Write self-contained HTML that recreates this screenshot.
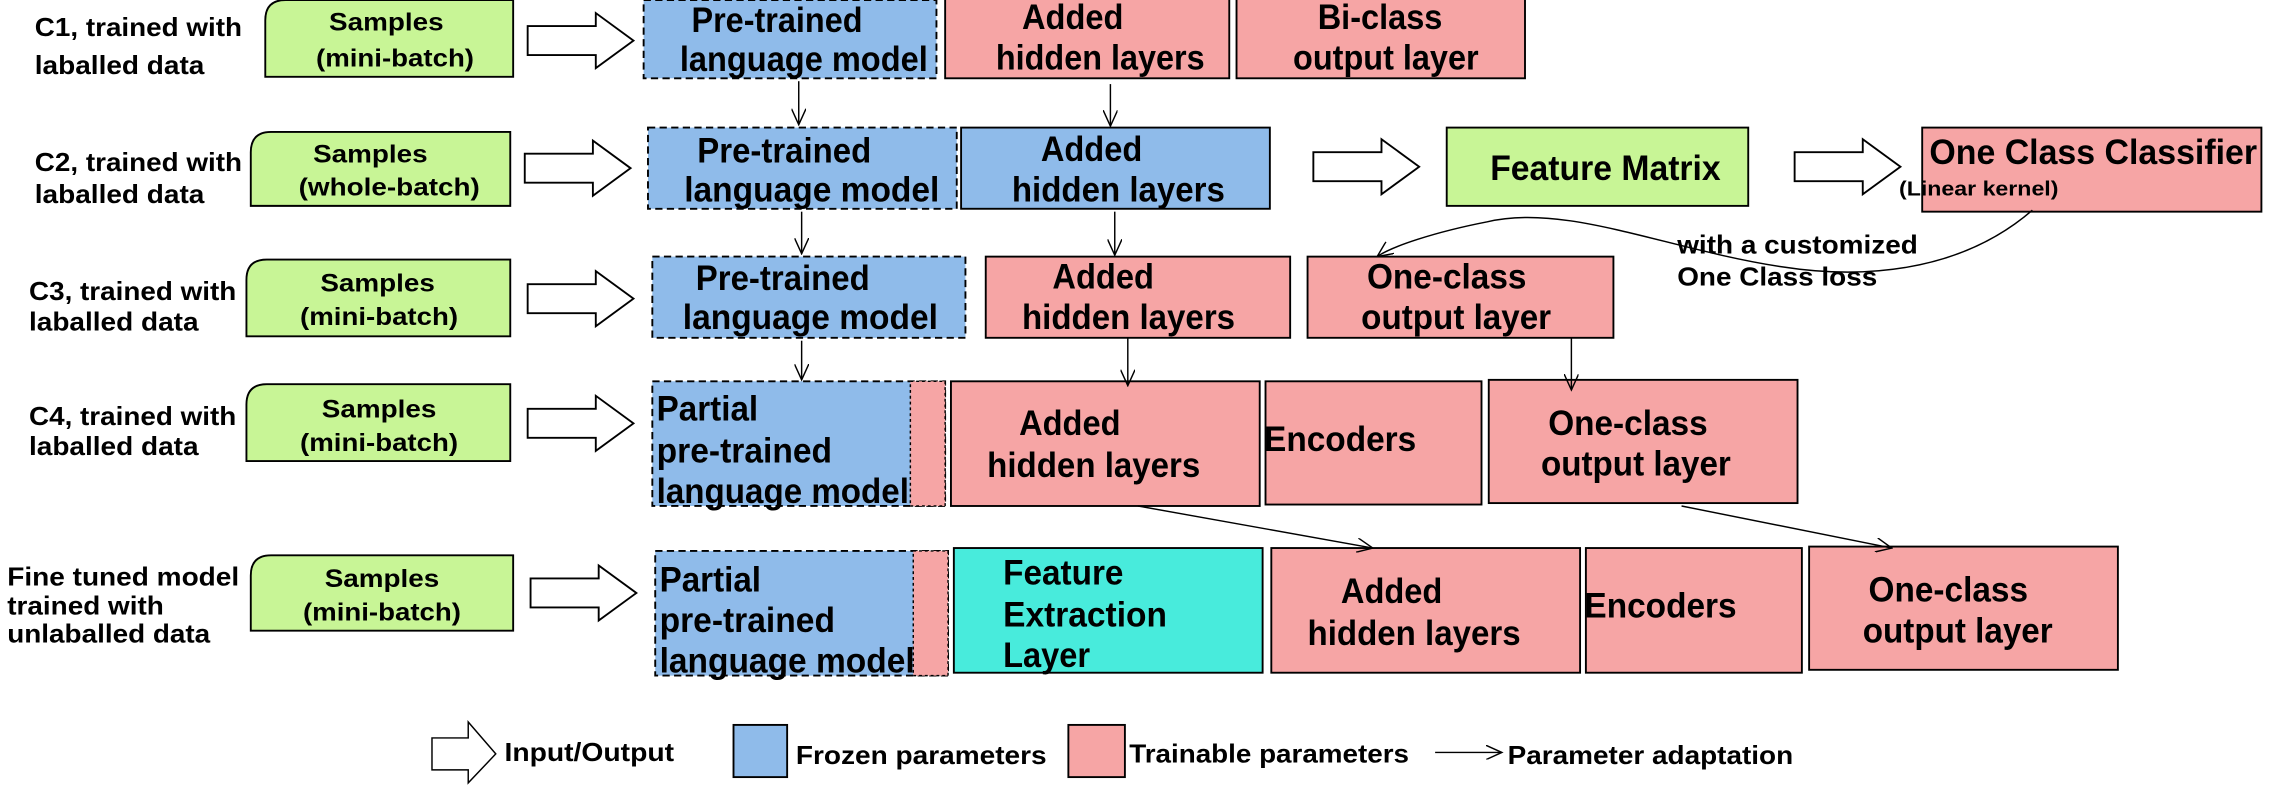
<!DOCTYPE html>
<html><head><meta charset="utf-8"><style>
html,body{margin:0;padding:0;background:#fff;}
svg{display:block;}
text{font-family:"Liberation Sans",sans-serif;font-weight:bold;fill:#000;}
.n{font-size:24px;}
.s{font-size:17px;}
.l{font-size:18px;}
</style></head><body>
<svg width="2273" height="809" viewBox="0 0 1568 558" preserveAspectRatio="none" xmlns="http://www.w3.org/2000/svg">
<defs>
<marker id="ah" markerWidth="12" markerHeight="10" refX="11" refY="5" orient="auto" markerUnits="userSpaceOnUse">
<path d="M0,0 L11,5 L0,10" fill="none" stroke="#000" stroke-width="1"/>
</marker>
<g id="bigarrow"><path d="M0,9 H47 V0 L73,19 L47,38 V29 H0 Z" fill="#fff" stroke="#000" stroke-width="1.3"/></g>
</defs>
<g stroke="#000" stroke-width="1.3">
<path d="M183,53 V14 Q183,0 197,0 H354 V53 Z" fill="#c8f596"/>
<path d="M173,142 V105 Q173,91 187,91 H352 V142 Z" fill="#c8f596"/>
<path d="M170,232 V193 Q170,179 184,179 H352 V232 Z" fill="#c8f596"/>
<path d="M170,318 V279 Q170,265 184,265 H352 V318 Z" fill="#c8f596"/>
<path d="M173,435 V397 Q173,383 187,383 H354 V435 Z" fill="#c8f596"/>
</g>
<g>
<use href="#bigarrow" transform="translate(364,9)"/>
<use href="#bigarrow" transform="translate(362,97)"/>
<use href="#bigarrow" transform="translate(364,187)"/>
<use href="#bigarrow" transform="translate(364,273)"/>
<use href="#bigarrow" transform="translate(366,390)"/>
<use href="#bigarrow" transform="translate(906,96)"/>
<use href="#bigarrow" transform="translate(1238,96)"/>
</g>
<g stroke="#000" stroke-width="1.3">
<rect x="444" y="0" width="202" height="54" fill="#8fbbea" stroke-dasharray="5,3"/>
<rect x="652" y="-2" width="196" height="56" fill="#f6a5a5"/>
<rect x="853" y="-2" width="199" height="56" fill="#f6a5a5"/>
<rect x="447" y="88" width="213" height="56" fill="#8fbbea" stroke-dasharray="5,3"/>
<rect x="663" y="88" width="213" height="56" fill="#8fbbea"/>
<rect x="998" y="88" width="208" height="54" fill="#c8f596"/>
<rect x="1326" y="88" width="234" height="58" fill="#f6a5a5"/>
<rect x="450" y="177" width="216" height="56" fill="#8fbbea" stroke-dasharray="5,3"/>
<rect x="680" y="177" width="210" height="56" fill="#f6a5a5"/>
<rect x="902" y="177" width="211" height="56" fill="#f6a5a5"/>
<rect x="450" y="263" width="202" height="86" fill="#8fbbea" stroke-dasharray="5,3"/>
<rect x="628" y="263" width="24" height="86" fill="#f6a5a5" stroke-dasharray="2,2" stroke-width="1"/>
<rect x="656" y="263" width="213" height="86" fill="#f6a5a5"/>
<rect x="873" y="263" width="149" height="85" fill="#f6a5a5"/>
<rect x="1027" y="262" width="213" height="85" fill="#f6a5a5"/>
<rect x="452" y="380" width="202" height="86" fill="#8fbbea" stroke-dasharray="5,3"/>
<rect x="630" y="380" width="24" height="86" fill="#f6a5a5" stroke-dasharray="2,2" stroke-width="1"/>
<rect x="658" y="378" width="213" height="86" fill="#48ebdc"/>
<rect x="877" y="378" width="213" height="86" fill="#f6a5a5"/>
<rect x="1094" y="378" width="149" height="86" fill="#f6a5a5"/>
<rect x="1248" y="377" width="213" height="85" fill="#f6a5a5"/>
<rect x="506" y="500" width="37" height="36" fill="#8fbbea"/>
<rect x="737" y="500" width="39" height="36" fill="#f6a5a5"/>
</g>
<path d="M298,509 H323 V498 L342,520 L323,540 V531 H298 Z" fill="#fff" stroke="#000" stroke-width="1"/>
<g stroke="#000" stroke-width="1" fill="none" marker-end="url(#ah)">
<line x1="551" y1="56" x2="551" y2="86"/>
<line x1="766" y1="58" x2="766" y2="87"/>
<line x1="553" y1="146" x2="553" y2="175"/>
<line x1="769" y1="146" x2="769" y2="176"/>
<line x1="553" y1="235" x2="553" y2="262"/>
<line x1="778" y1="233" x2="778" y2="266"/>
<line x1="1084" y1="233" x2="1084" y2="269"/>
<line x1="785" y1="349" x2="947" y2="378"/>
<line x1="1160" y1="349" x2="1305" y2="378"/>
<path d="M1402,145 C1350,190 1280,192 1229,184 C1150,172 1080,140 1026,153 C990,160 960,170 950,177"/>
<line x1="990" y1="519" x2="1036" y2="519"/>
</g>
<g class="l" lengthAdjust="spacingAndGlyphs">
<text x="24" y="25" textLength="143" lengthAdjust="spacingAndGlyphs">C1, trained with</text><text x="24" y="51" textLength="117" lengthAdjust="spacingAndGlyphs">laballed data</text>
<text x="24" y="118" textLength="143" lengthAdjust="spacingAndGlyphs">C2, trained with</text><text x="24" y="140" textLength="117" lengthAdjust="spacingAndGlyphs">laballed data</text>
<text x="20" y="207" textLength="143" lengthAdjust="spacingAndGlyphs">C3, trained with</text><text x="20" y="228" textLength="117" lengthAdjust="spacingAndGlyphs">laballed data</text>
<text x="20" y="293" textLength="143" lengthAdjust="spacingAndGlyphs">C4, trained with</text><text x="20" y="314" textLength="117" lengthAdjust="spacingAndGlyphs">laballed data</text>
<text x="5" y="404" textLength="160" lengthAdjust="spacingAndGlyphs">Fine tuned model</text><text x="5" y="424" textLength="108" lengthAdjust="spacingAndGlyphs">trained with</text><text x="5" y="443" textLength="140" lengthAdjust="spacingAndGlyphs">unlaballed data</text>
</g>
<g class="s">
<text x="227" y="21" textLength="79" lengthAdjust="spacingAndGlyphs">Samples</text><text x="218" y="46" textLength="109" lengthAdjust="spacingAndGlyphs">(mini-batch)</text>
<text x="216" y="112" textLength="79" lengthAdjust="spacingAndGlyphs">Samples</text><text x="206" y="135" textLength="125" lengthAdjust="spacingAndGlyphs">(whole-batch)</text>
<text x="221" y="201" textLength="79" lengthAdjust="spacingAndGlyphs">Samples</text><text x="207" y="224" textLength="109" lengthAdjust="spacingAndGlyphs">(mini-batch)</text>
<text x="222" y="288" textLength="79" lengthAdjust="spacingAndGlyphs">Samples</text><text x="207" y="311" textLength="109" lengthAdjust="spacingAndGlyphs">(mini-batch)</text>
<text x="224" y="405" textLength="79" lengthAdjust="spacingAndGlyphs">Samples</text><text x="209" y="428" textLength="109" lengthAdjust="spacingAndGlyphs">(mini-batch)</text>
</g>
<g class="n">
<text x="477" y="22" textLength="118" lengthAdjust="spacingAndGlyphs">Pre-trained</text><text x="469" y="49" textLength="171" lengthAdjust="spacingAndGlyphs">language model</text>
<text x="705" y="20" textLength="70" lengthAdjust="spacingAndGlyphs">Added</text><text x="687" y="48" textLength="144" lengthAdjust="spacingAndGlyphs">hidden layers</text>
<text x="909" y="20" textLength="86" lengthAdjust="spacingAndGlyphs">Bi-class</text><text x="892" y="48" textLength="128" lengthAdjust="spacingAndGlyphs">output layer</text>
<text x="481" y="112" textLength="120" lengthAdjust="spacingAndGlyphs">Pre-trained</text><text x="472" y="139" textLength="176" lengthAdjust="spacingAndGlyphs">language model</text>
<text x="718" y="111" textLength="70" lengthAdjust="spacingAndGlyphs">Added</text><text x="698" y="139" textLength="147" lengthAdjust="spacingAndGlyphs">hidden layers</text>
<text x="1028" y="124" textLength="159" lengthAdjust="spacingAndGlyphs">Feature Matrix</text>
<text x="1331" y="113" textLength="226" lengthAdjust="spacingAndGlyphs">One Class Classifier</text>
<text x="480" y="200" textLength="120" lengthAdjust="spacingAndGlyphs">Pre-trained</text><text x="471" y="227" textLength="176" lengthAdjust="spacingAndGlyphs">language model</text>
<text x="726" y="199" textLength="70" lengthAdjust="spacingAndGlyphs">Added</text><text x="705" y="227" textLength="147" lengthAdjust="spacingAndGlyphs">hidden layers</text>
<text x="943" y="199" textLength="110" lengthAdjust="spacingAndGlyphs">One-class</text><text x="939" y="227" textLength="131" lengthAdjust="spacingAndGlyphs">output layer</text>
<text x="703" y="300" textLength="70" lengthAdjust="spacingAndGlyphs">Added</text><text x="681" y="329" textLength="147" lengthAdjust="spacingAndGlyphs">hidden layers</text>
<text x="872" y="311" textLength="105" lengthAdjust="spacingAndGlyphs">Encoders</text>
<text x="1068" y="300" textLength="110" lengthAdjust="spacingAndGlyphs">One-class</text><text x="1063" y="328" textLength="131" lengthAdjust="spacingAndGlyphs">output layer</text>
<text x="925" y="416" textLength="70" lengthAdjust="spacingAndGlyphs">Added</text><text x="902" y="445" textLength="147" lengthAdjust="spacingAndGlyphs">hidden layers</text>
<text x="1093" y="426" textLength="105" lengthAdjust="spacingAndGlyphs">Encoders</text>
<text x="1289" y="415" textLength="110" lengthAdjust="spacingAndGlyphs">One-class</text><text x="1285" y="443" textLength="131" lengthAdjust="spacingAndGlyphs">output layer</text>
<text x="453" y="290" textLength="70" lengthAdjust="spacingAndGlyphs">Partial</text><text x="453" y="319" textLength="121" lengthAdjust="spacingAndGlyphs">pre-trained</text><text x="453" y="347" textLength="174" lengthAdjust="spacingAndGlyphs">language model</text>
<text x="455" y="408" textLength="70" lengthAdjust="spacingAndGlyphs">Partial</text><text x="455" y="436" textLength="121" lengthAdjust="spacingAndGlyphs">pre-trained</text><text x="455" y="464" textLength="176" lengthAdjust="spacingAndGlyphs">language model</text>
<text x="692" y="403" textLength="83" lengthAdjust="spacingAndGlyphs">Feature</text><text x="692" y="432" textLength="113" lengthAdjust="spacingAndGlyphs">Extraction</text><text x="692" y="460" textLength="60" lengthAdjust="spacingAndGlyphs">Layer</text>
</g>
<text x="1310" y="135" style="font-size:14px" textLength="110" lengthAdjust="spacingAndGlyphs">(Linear kernel)</text>
<text x="1157" y="175" style="font-size:18px" textLength="166" lengthAdjust="spacingAndGlyphs">with a customized</text>
<text x="1157" y="197" style="font-size:18px" textLength="138" lengthAdjust="spacingAndGlyphs">One Class loss</text>
<g class="l">
<text x="348" y="525" textLength="117" lengthAdjust="spacingAndGlyphs">Input/Output</text>
<text x="549" y="527" textLength="173" lengthAdjust="spacingAndGlyphs">Frozen parameters</text>
<text x="779" y="526" textLength="193" lengthAdjust="spacingAndGlyphs">Trainable parameters</text>
<text x="1040" y="527" textLength="197" lengthAdjust="spacingAndGlyphs">Parameter adaptation</text>
</g>
</svg>
</body></html>
